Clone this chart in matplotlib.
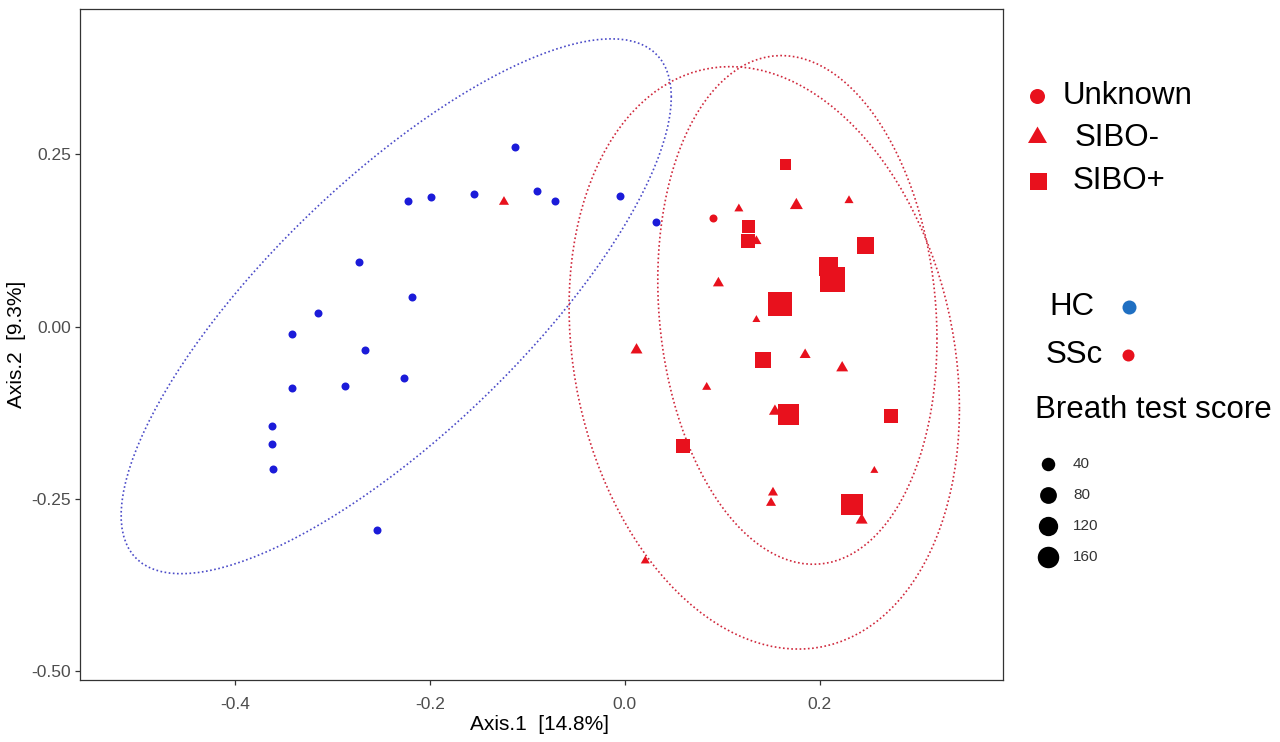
import numpy as np
import matplotlib.pyplot as plt

plt.rcParams['font.family'] = ['Liberation Sans', 'DejaVu Sans']

# healthy controls (HC)
hc_x = [-0.113, -0.222, -0.199, -0.155, -0.090, -0.072, -0.005, 0.032, -0.273, -0.218,
        -0.315, -0.342, -0.267, -0.342, -0.287, -0.227, -0.362, -0.362, -0.361, -0.254]
hc_y = [0.261, 0.182, 0.188, 0.192, 0.197, 0.182, 0.190, 0.152, 0.094, 0.043,
        0.020, -0.011, -0.034, -0.089, -0.086, -0.074, -0.144, -0.170, -0.207, -0.295]

# SSc, SIBO- (triangles)
neg_x = [-0.124, 0.117, 0.176, 0.230, 0.135, 0.096, 0.135, 0.012, 0.185, 0.223,
         0.084, 0.154, 0.256, 0.152, 0.150, 0.243, 0.021]
neg_y = [0.181, 0.171, 0.176, 0.183, 0.124, 0.063, 0.010, -0.034, -0.041, -0.060,
         -0.088, -0.123, -0.209, -0.241, -0.256, -0.281, -0.340]
neg_score = [13, 8, 35, 8, 13, 19, 4, 26, 19, 26, 8, 26, 4, 13, 13, 26, 8]

# SSc, SIBO+ (squares)
pos_x = [0.165, 0.127, 0.126, 0.247, 0.209, 0.213, 0.159, 0.142, 0.168, 0.273, 0.060, 0.233]
pos_y = [0.235, 0.146, 0.124, 0.117, 0.087, 0.068, 0.033, -0.049, -0.127, -0.130, -0.174, -0.258]
pos_score = [15, 25, 33, 62, 87, 186, 167, 51, 116, 33, 33, 124]

# SSc, unknown breath test
unk_x = [0.090]
unk_y = [0.158]

size_breaks = [40, 80, 120, 160]

BLUE = '#1b1bd9'
RED = '#e8111d'
PT = 0.72  # points per pixel at 100 dpi
TRI = [(-1, -0.5774), (1, -0.5774), (0, 1.1547)]


def diam_px(score):
    return 5.5 + 1.264 * np.sqrt(np.asarray(score, dtype=float))


def cov_trob(pts, nu=5, maxit=25, tol=0.01):
    # port of MASS::cov.trob (multivariate t, robust)
    n, p = pts.shape
    loc = pts.mean(axis=0)
    w = np.ones(n)
    for _ in range(maxit):
        w0 = w
        X = pts - loc
        _, d, vt = np.linalg.svd(np.sqrt(w / w.sum())[:, None] * X, full_matrices=False)
        wX = X @ vt.T @ np.diag(1 / d)
        Q = (wX ** 2).sum(axis=1)
        w = (nu + p) / (nu + Q)
        loc = (w[:, None] * pts).sum(axis=0) / w.sum()
        if np.all(np.abs(w - w0) < tol):
            break
    sX = np.sqrt(w)[:, None] * X
    return loc, sX.T @ sX / n


def t_ellipse(x, y, level=0.95, segments=120):
    # same idea as ggplot2 stat_ellipse(type = "t")
    pts = np.column_stack([x, y])
    center, cov = cov_trob(pts)
    chol = np.linalg.cholesky(cov).T
    d2 = len(pts) - 1
    fq = d2 / 2 * ((1 - level) ** (-2 / d2) - 1)
    radius = np.sqrt(2 * fq)
    t = np.linspace(0, 2 * np.pi, segments)
    unit = np.column_stack([np.cos(t), np.sin(t)])
    return center + radius * unit @ chol


fig = plt.figure(figsize=(12.8, 7.42), dpi=100)
ax = fig.add_axes([80 / 1280, 1 - 680 / 742, 923 / 1280, 671 / 742])

for gx, gy, col in [(hc_x, hc_y, '#4b4bc8'), (neg_x, neg_y, '#d0283c'), (pos_x, pos_y, '#d0283c')]:
    e = t_ellipse(gx, gy)
    ax.plot(e[:, 0], e[:, 1], color=col, lw=1.2, ls=(0, (1, 1.5)))

ax.scatter(hc_x, hc_y, s=(8 * PT) ** 2, color=BLUE, marker='o', linewidths=0, zorder=3)
ax.scatter(unk_x, unk_y, s=(8 * PT) ** 2, color=RED, marker='o', linewidths=0, zorder=3)
ax.scatter(neg_x, neg_y, s=(diam_px(neg_score) * PT / 0.866) ** 2, color=RED,
           marker=TRI, linewidths=0, zorder=3)
ax.scatter(pos_x, pos_y, s=(diam_px(pos_score) * 1.1 * PT) ** 2, color=RED,
           marker='s', linewidths=0, zorder=3)

ax.set_xlim(-0.559, 0.388)
ax.set_ylim(-0.513, 0.461)
ax.set_xticks([-0.4, -0.2, 0.0, 0.2])
ax.set_xticklabels(['-0.4', '-0.2', '0.0', '0.2'])
ax.set_yticks([-0.5, -0.25, 0.0, 0.25])
ax.set_yticklabels(['-0.50', '-0.25', '0.00', '0.25'])
ax.tick_params(length=3.5, width=0.9, color='#333333', labelcolor='#4d4d4d',
               labelsize=12.5, pad=3)
ax.tick_params(axis='x', pad=9)
for sp in ax.spines.values():
    sp.set_color('#333333')
    sp.set_linewidth(0.9)

fig.text(540 / 1280, 1 - 724 / 742, 'Axis.1  [14.8%]', ha='center', va='center', fontsize=15)
fig.text(17 / 1280, 1 - 344 / 742, 'Axis.2  [9.3%]', ha='center', va='center',
         fontsize=15, rotation=90)

# legend drawn in pixel coordinates
lg = fig.add_axes([0, 0, 1, 1], zorder=5)
lg.set_xlim(0, 1280)
lg.set_ylim(742, 0)
lg.axis('off')

lg.scatter([1037], [96], s=(15 * PT) ** 2, color=RED, marker='o', linewidths=0)
lg.scatter([1037], [137], s=(19 * PT / 0.866) ** 2, color=RED, marker=TRI, linewidths=0)
lg.scatter([1038], [181], s=(17 * PT) ** 2, color=RED, marker='s', linewidths=0)
lg.text(1063, 96, 'Unknown', fontsize=22.5, va='center')
lg.text(1075, 138, 'SIBO-', fontsize=22.5, va='center')
lg.text(1073, 181, 'SIBO+', fontsize=22.5, va='center')

lg.text(1049, 307, 'HC', fontsize=22.5, va='center')
lg.scatter([1129], [307], s=(14 * PT) ** 2, color='#1f6fc2', marker='o', linewidths=0)
lg.text(1046, 355, 'SSc', fontsize=22.5, va='center')
lg.scatter([1128], [355], s=(12 * PT) ** 2, color=RED, marker='o', linewidths=0)

lg.text(1035, 410, 'Breath test score', fontsize=22.5, va='center')
for i, b in enumerate(size_breaks):
    yy = 464 + i * 31
    lg.scatter([1048], [yy], s=(diam_px(b) * PT) ** 2, color='black', marker='o', linewidths=0)
    lg.text(1073, yy, str(b), fontsize=11, va='center', color='#333333')

fig.savefig('out.png', dpi=100)
